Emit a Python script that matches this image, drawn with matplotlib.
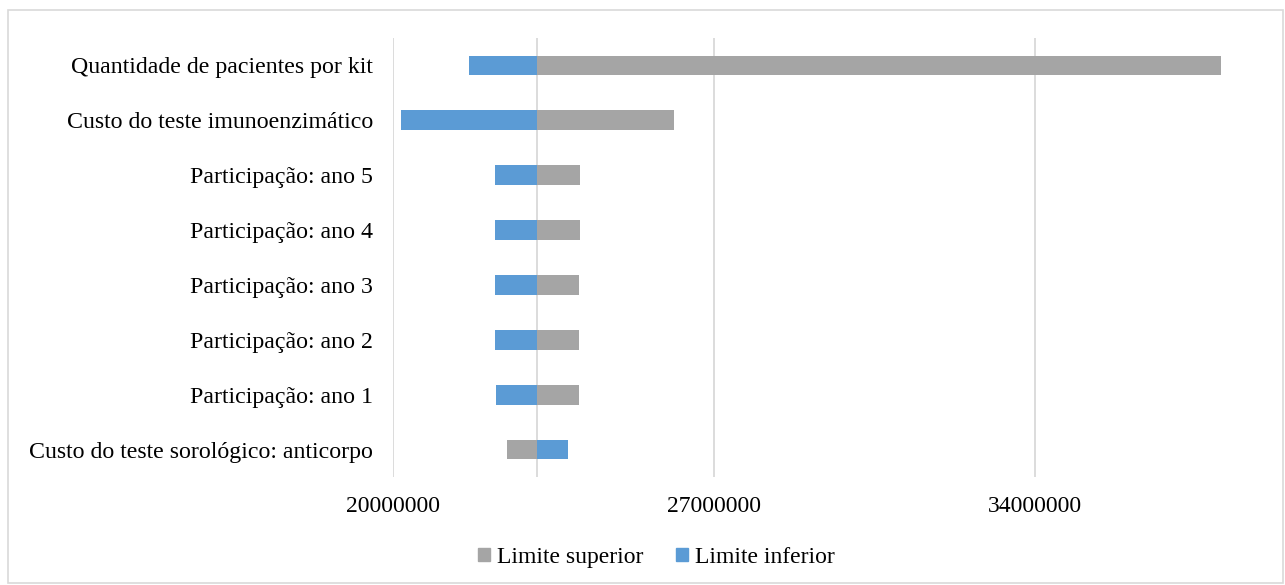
import matplotlib.pyplot as plt
from matplotlib.patches import Rectangle, Patch
import numpy as np

categorias = ['Quantidade de pacientes por kit', 'Custo do teste imunoenzimático',
              'Participação: ano 5', 'Participação: ano 4', 'Participação: ano 3',
              'Participação: ano 2', 'Participação: ano 1',
              'Custo do teste sorológico: anticorpo']
limite_superior = [38060000, 26130000, 24080000, 24070000, 24060000, 24060000, 24060000, 22490000]
limite_inferior = [21650000, 20160000, 22220000, 22220000, 22230000, 22230000, 22240000, 23810000]
caso_base = 23140000
ticks = [20000000, 27000000, 34000000]

plt.rcParams['font.family'] = ['Liberation Serif', 'DejaVu Serif']

fig = plt.figure(figsize=(12.85, 5.85), dpi=100)
ax = fig.add_axes([0.3061, 0.1846, 0.6773, 0.7504])

y = np.arange(len(categorias))
sup = np.array(limite_superior) - caso_base
inf = np.array(limite_inferior) - caso_base
ax.barh(y, sup, left=caso_base, height=0.36, color='#A5A5A5', zorder=3, label='Limite superior')
ax.barh(y, inf, left=caso_base, height=0.36, color='#5B9BD5', zorder=3, label='Limite inferior')

ax.set_xlim(20000000, 39000000)
ax.set_ylim(len(categorias) - 0.5, -0.5)
ax.set_xticks(ticks)
ax.set_xticklabels([str(t) for t in ticks], fontsize=17)
ax.set_yticks(y)
ax.set_yticklabels(categorias, fontsize=17.2)
ax.tick_params(length=0, pad=14, axis='x')
ax.tick_params(length=0, pad=14.5, axis='y')
ax.xaxis.grid(True, color='#D9D9D9', linewidth=1.3, zorder=0)
ax.axvline(caso_base, color='#D9D9D9', linewidth=1.3, zorder=1)
for s in ax.spines.values():
    s.set_visible(False)

handles = [Patch(color='#A5A5A5', label='Limite superior'),
           Patch(color='#5B9BD5', label='Limite inferior')]
fig.legend(handles=handles, loc='center', bbox_to_anchor=(0.511, 0.047), ncol=2,
           frameon=False, fontsize=17, handlelength=0.5, handleheight=0.5,
           handletextpad=0.3, columnspacing=1.4)

fig.patches.append(Rectangle((8 / 1285, 2 / 585), 1275 / 1285, 573 / 585,
                             transform=fig.transFigure, fill=False,
                             edgecolor='#D9D9D9', linewidth=1.2))

fig.savefig('out.png', dpi=100)
